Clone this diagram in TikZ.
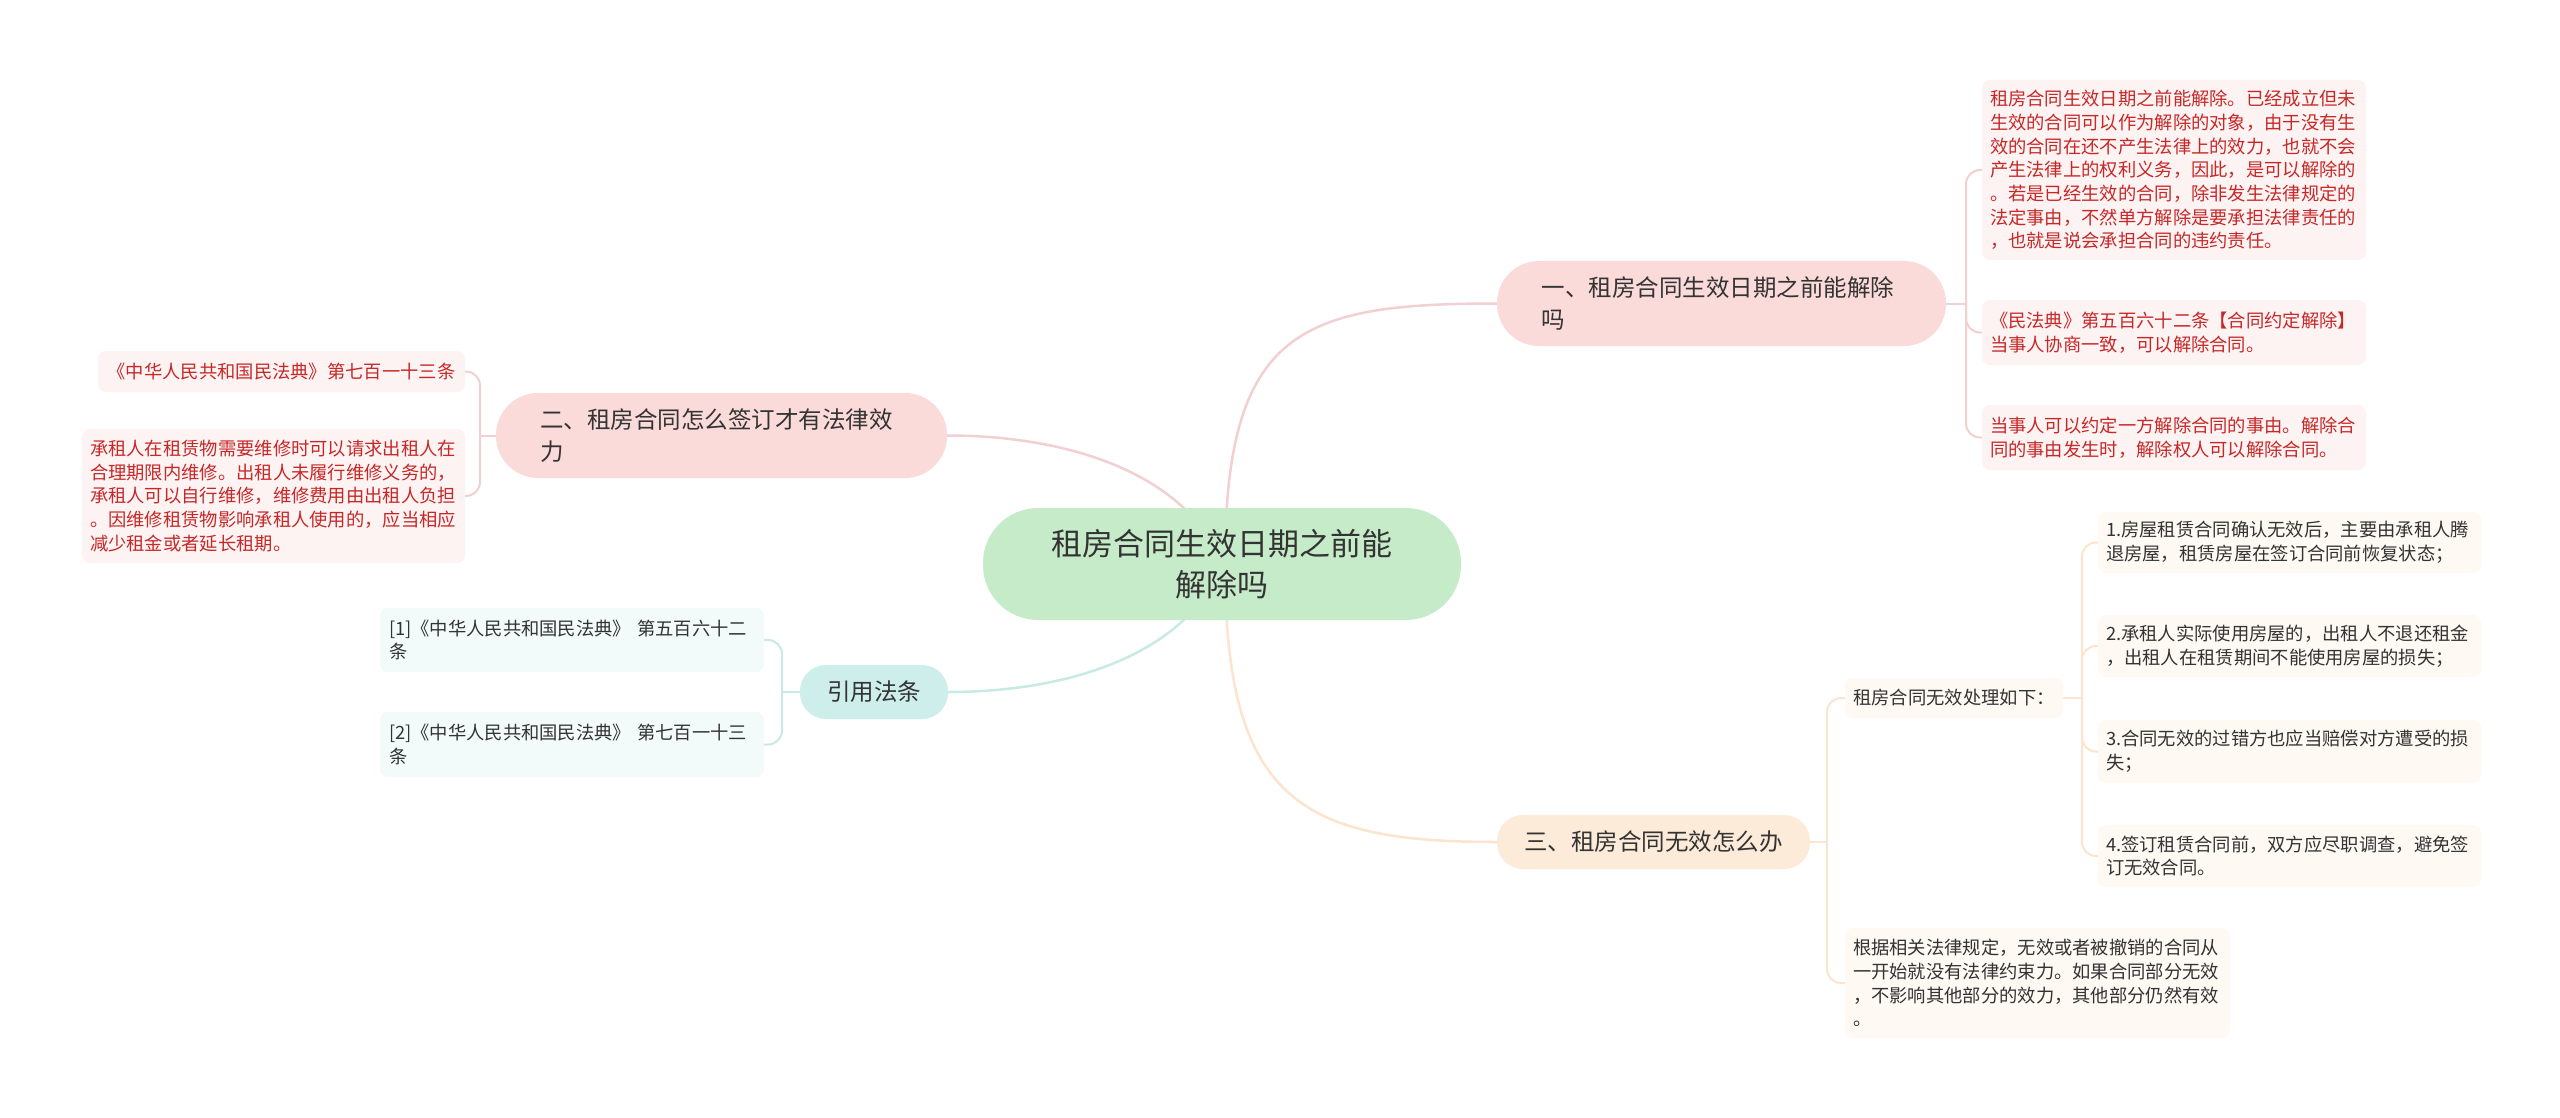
\documentclass[tikz,border=0pt]{standalone}
\usepackage{fontspec}
\newfontfamily\cjk{Noto Sans CJK SC}
\usetikzlibrary{backgrounds}
\definecolor{txt}{HTML}{333333}
\definecolor{redtxt}{HTML}{C62828}
\definecolor{cgreen}{HTML}{C6EBC9}
\definecolor{cpink}{HTML}{FADBDA}
\definecolor{cteal}{HTML}{CDEEEA}
\definecolor{corange}{HTML}{FDEBD9}
\definecolor{lpink}{HTML}{FDF3F3}
\definecolor{lteal}{HTML}{F3FAFA}
\definecolor{lorange}{HTML}{FEF9F3}
\definecolor{pinkline}{HTML}{F2D0D2}
\definecolor{tealline}{HTML}{C8EAE5}
\definecolor{orangeline}{HTML}{FBE5CE}
\tikzset{
  leaffont/.style={font=\cjk\fontsize{18.3}{23.7}\selectfont},
  branchfont/.style={font=\cjk\fontsize{23.5}{32}\selectfont},
  leafbox/.style={rectangle, rounded corners=8pt, inner xsep=8pt, inner ysep=0pt, align=left, leaffont},
  pinkleaf/.style={leafbox, fill=lpink, text=redtxt},
  tealleaf/.style={leafbox, fill=lteal, text=txt},
  orangeleaf/.style={leafbox, fill=lorange, text=txt},
  branchbox/.style={rectangle, inner ysep=0pt, branchfont, text=txt},
  conn/.style={line width=2.5pt},
  brk/.style={line width=2pt, rounded corners=14pt},
}
\begin{document}
\begin{tikzpicture}[x=1pt,y=-1pt]
\useasboundingbox (0,0) rectangle (2560,1118);

% central
\node[rectangle, rounded corners=55pt, fill=cgreen, text=txt, align=center,
  text width=440pt, inner xsep=19pt, inner ysep=0pt, minimum height=112pt,
  font=\cjk\fontsize{31}{41}\selectfont] (c) at (1222,564)
  {租房合同生效日期之前能\\解除吗};

% branches
\node[branchbox, rounded corners=42pt, fill=cpink, align=left, text width=360pt,
  inner xsep=44.5pt, minimum height=85pt] (b1) at (1721.5,303.5)
  {一、租房合同生效日期之前能解除\\吗};
\node[branchbox, rounded corners=42pt, fill=cpink, align=left, text width=363pt,
  inner xsep=44pt, minimum height=85pt] (b2) at (721.5,435.5)
  {二、租房合同怎么签订才有法律效\\力};
\node[branchbox, rounded corners=26pt, fill=cteal, minimum width=148pt,
  minimum height=54pt] (b3) at (874,692) {引用法条};
\node[branchbox, rounded corners=26pt, fill=corange, minimum width=313pt,
  minimum height=54pt] (b4) at (1653.5,842) {三、租房合同无效怎么办};

% branch 1 leaves
\node[pinkleaf, text width=368pt, minimum height=180pt] (c1a) at (2174,170)
  {租房合同生效日期之前能解除。已经成立但未\\生效的合同可以作为解除的对象，由于没有生\\效的合同在还不产生法律上的效力，也就不会\\产生法律上的权利义务，因此，是可以解除的\\。若是已经生效的合同，除非发生法律规定的\\法定事由，不然单方解除是要承担法律责任的\\，也就是说会承担合同的违约责任。};
\node[pinkleaf, text width=368pt, minimum height=65pt] (c1b) at (2174,332.5)
  {《民法典》第五百六十二条【合同约定解除】\\当事人协商一致，可以解除合同。};
\node[pinkleaf, text width=368pt, minimum height=65pt] (c1c) at (2174,437.5)
  {当事人可以约定一方解除合同的事由。解除合\\同的事由发生时，解除权人可以解除合同。};

% branch 2 leaves
\node[pinkleaf, align=center, minimum width=367pt, minimum height=41pt] (c2a) at (281.5,371.5)
  {《中华人民共和国民法典》第七百一十三条};
\node[pinkleaf, text width=367pt, minimum height=134pt] (c2b) at (273.5,496)
  {承租人在租赁物需要维修时可以请求出租人在\\合理期限内维修。出租人未履行维修义务的，\\承租人可以自行维修，维修费用由出租人负担\\。因维修租赁物影响承租人使用的，应当相应\\减少租金或者延长租期。};

% branch 3 leaves
\node[tealleaf, text width=366pt, inner xsep=9pt, minimum height=64pt] (c3a) at (572,640)
  {[1]《中华人民共和国民法典》 第五百六十二\\条};
\node[tealleaf, text width=366pt, inner xsep=9pt, minimum height=65pt] (c3b) at (572,744.5)
  {[2]《中华人民共和国民法典》 第七百一十三\\条};

% branch 4 leaves
\node[orangeleaf, align=center, minimum width=218pt, minimum height=40pt] (c4a) at (1954,698)
  {租房合同无效处理如下：};
\node[orangeleaf, text width=369pt, minimum height=110pt] (c4b) at (2037.5,983)
  {根据相关法律规定，无效或者被撤销的合同从\\一开始就没有法律约束力。如果合同部分无效\\，不影响其他部分的效力，其他部分仍然有效\\。};
\node[orangeleaf, text width=367pt, minimum height=61pt] (d1) at (2289.5,542.5)
  {1.房屋租赁合同确认无效后，主要由承租人腾\\退房屋，租赁房屋在签订合同前恢复状态；};
\node[orangeleaf, text width=367pt, minimum height=62pt] (d2) at (2289.5,646)
  {2.承租人实际使用房屋的，出租人不退还租金\\，出租人在租赁期间不能使用房屋的损失；};
\node[orangeleaf, text width=367pt, minimum height=63pt] (d3) at (2289.5,751.5)
  {3.合同无效的过错方也应当赔偿对方遭受的损\\失；};
\node[orangeleaf, text width=367pt, minimum height=62pt] (d4) at (2289.5,856)
  {4.签订租赁合同前，双方应尽职调查，避免签\\订无效合同。};

% junctions
\coordinate (j1) at (1966,303.5);
\coordinate (j2) at (480,435.5);
\coordinate (j3) at (782,692);
\coordinate (j4) at (1827,842);
\coordinate (j5) at (2082,698);
\coordinate (cc) at (1225,564);

\begin{scope}[on background layer]
\fill[white] (0,0) rectangle (2560,1118);
% main connectors
\draw[conn, pinkline] (cc) .. controls (1225,330) and (1300,303.5) .. (b1.west);
\draw[conn, orangeline] (cc) .. controls (1225,800) and (1300,842) .. (b4.west);
\draw[conn, pinkline] (b2.east) .. controls (1080,435.5) and (1190,480) .. (c.center);
\draw[conn, tealline] (b3.east) .. controls (1080,692) and (1190,648) .. (c.center);
% brackets
\draw[brk, pinkline] (b1.east) -- (j1);
\draw[brk, pinkline] (j1) |- (c1a.west);
\draw[brk, pinkline] (j1) |- (c1b.west);
\draw[brk, pinkline] (j1) |- (c1c.west);
\draw[brk, pinkline] (b2.west) -- (j2);
\draw[brk, pinkline] (j2) |- (c2a.east);
\draw[brk, pinkline] (j2) |- (c2b.east);
\draw[brk, tealline] (b3.west) -- (j3);
\draw[brk, tealline] (j3) |- (c3a.east);
\draw[brk, tealline] (j3) |- (c3b.east);
\draw[brk, orangeline] (b4.east) -- (j4);
\draw[brk, orangeline] (j4) |- (c4a.west);
\draw[brk, orangeline] (j4) |- (c4b.west);
\draw[brk, orangeline] (c4a.east) -- (j5);
\draw[brk, orangeline] (j5) |- (d1.west);
\draw[brk, orangeline] (j5) |- (d2.west);
\draw[brk, orangeline] (j5) |- (d3.west);
\draw[brk, orangeline] (j5) |- (d4.west);
\end{scope}
\end{tikzpicture}
\end{document}
